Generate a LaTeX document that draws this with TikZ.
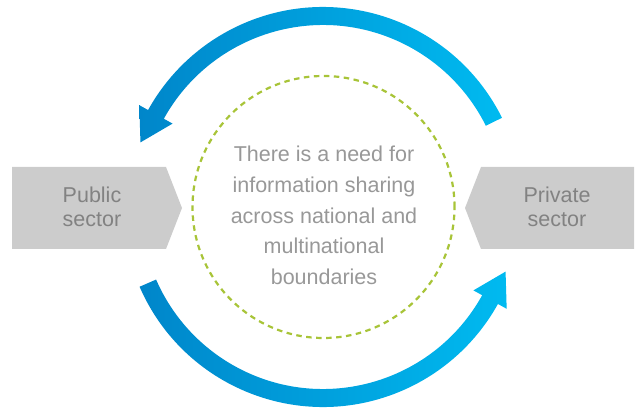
\documentclass[tikz,border=0pt]{standalone}
\usepackage{fontspec}
\setmainfont{Liberation Sans}
\definecolor{arrowdark}{RGB}{0,134,202}
\definecolor{arrowlight}{RGB}{0,186,240}
\definecolor{sectorgray}{RGB}{204,204,204}
\definecolor{labelgray}{RGB}{152,152,152}
\definecolor{sectortext}{RGB}{130,130,130}
\definecolor{ringgreen}{RGB}{168,196,56}
\begin{document}
\begin{tikzpicture}[x=1pt,y=1pt,
  flow/.style={left color=arrowdark,right color=arrowlight,draw=none},
  sectorbox/.style={fill=sectorgray,draw=none},
  sectorlabel/.style={text=sectortext,align=center,inner sep=0pt,
    font=\fontsize{21.5}{24}\selectfont},
  mainlabel/.style={text=labelgray,align=center,inner sep=0pt,
    font=\fontsize{21.5}{30.8}\selectfont},
  ringstyle/.style={circle,draw=ringgreen,line width=2.2pt,
    dash pattern=on 5.5pt off 4.5pt,inner sep=0pt,minimum size=262pt}]
\useasboundingbox (0,0) rectangle (642,407);

% sector shapes
\fill[sectorbox] (12,240) -- (166,240) -- (182,199) -- (166,158) -- (12,158) -- cycle;
\fill[sectorbox] (634,240) -- (481,240) -- (465,199) -- (481,158) -- (634,158) -- cycle;
\node[sectorlabel] (public) at (92,200) {Public\\sector};
\node[sectorlabel] (private) at (557,200.5) {Private\\sector};

% dashed ring and central statement
\node[ringstyle] (ring) at (323.5,200) {};
\node[mainlabel] (need) at (324,191.5)
  {There is a need for\\information sharing\\across national and\\multinational\\boundaries};

% circular flow arrows
\begin{scope}[shift={(323,200)}]
  \shade[flow] (26.5:200) arc[start angle=26.5,end angle=151,radius=200]
    -- (151:210) -- (-182.56,64.61) -- (151:172) -- (151:182)
    arc[start angle=151,end angle=26.5,radius=182] -- cycle;
  \shade[flow] (203.5:200) arc[start angle=203.5,end angle=331,radius=200]
    -- (331:210) -- (182.56,-64.61) -- (331:172) -- (331:182)
    arc[start angle=331,end angle=203.5,radius=182] -- cycle;
\end{scope}
\end{tikzpicture}
\end{document}
